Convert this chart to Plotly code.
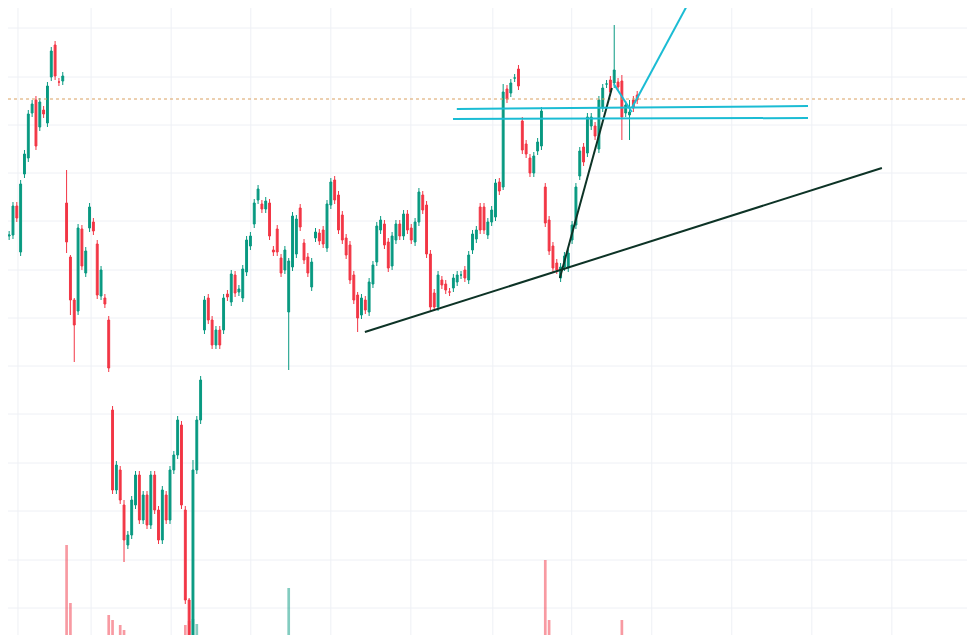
import plotly.graph_objects as go

# candle bodies, as (open, close) in screen-pixel height units
# (price = 635 - pixel_y, so bigger = higher)
body_px = [
    # early rally
    (270, 237), (237, 236), (236, 235), (235, 206), (206, 218), (252, 184), (174, 154), (158, 114),
    (113, 104), (100, 146), (127, 102), (110, 114), (123, 86), (77, 51), (45, 76), (82, 82), (81, 76),
    # gap down
    (203, 242), (257, 300), (300, 325), (311, 228), (229, 266), (273, 251), (228, 207), (222, 231),
    (244, 295), (296, 270), (298, 304), (320, 368),
    # the slump
    (410, 490), (490, 465), (470, 500), (505, 540), (545, 535), (535, 500), (505, 475), (475, 520),
    (520, 495), (495, 525), (525, 475), (475, 510), (510, 540), (540, 490), (495, 520), (520, 470),
    (470, 455), (455, 420), (425, 505), (510, 600), (600, 640), (650, 470), (470, 420), (420, 380),
    # recovery
    (330, 300), (298, 320), (320, 345), (345, 330), (330, 345), (330, 298), (294, 297), (302, 274),
    (275, 293), (292, 289), (298, 269), (272, 240), (246, 236), (224, 203), (200, 189), (204, 209),
    (209, 201), (203, 236), (250, 252), (229, 252), (258, 273), (270, 250), (312, 261), (267, 216),
    (254, 219), (208, 227), (243, 260), (257, 273), (287, 262), (238, 232), (233, 241), (230, 244),
    (248, 204),
    # range
    (205, 182), (180, 200), (195, 230), (215, 240), (238, 255), (245, 280), (275, 300), (295, 318),
    (315, 298), (300, 310), (312, 282), (284, 265), (262, 226), (230, 220), (224, 245), (242, 268),
    (266, 236), (240, 224), (224, 236), (236, 214), (214, 230), (228, 240), (242, 222), (222, 192),
    (195, 210), (205, 254),
    # breakout
    (254, 307), (293, 307), (307, 275), (280, 285), (284, 290), (292, 292), (288, 278), (282, 275),
    (275, 275), (270, 278), (280, 255), (250, 234), (239, 230), (207, 230), (207, 230), (235, 222),
    (222, 210), (217, 183), (182, 191), (187, 92), (89, 99), (93, 83), (78, 78), (69, 86),
    (121, 150), (144, 154), (158, 173), (173, 156), (151, 142), (146, 111), (187, 223), (220, 251),
    (246, 268), (263, 270), (278, 267), (267, 256), (268, 253), (240, 225), (225, 187), (176, 151),
    (147, 162), (153, 117), (126, 117), (126, 136), (149, 100), (108, 88), (84, 84), (80, 92),
    (83, 70), (82, 87), (81, 117), (113, 105), (115, 112), (100, 108), (95, 100),
]

# long wicks: index -> (high_px, low_px); the rest get short wicks
long_wicks = {0: (232, 272), 17: (170, 253), 18: (255, 315), 19: (298, 362), 32: (500, 562),
              49: (598, 700), 50: (460, 700), 75: (258, 370), 93: (292, 332),
              131: (84, 190), 160: (25, 88), 162: (75, 140), 164: (100, 140)}
short_wick = 4

volumes = [
    14, 12, 10, 15, 11, 18, 16, 20, 13, 17, 12, 10, 15, 19, 14, 9, 11,
    120, 62, 28, 24, 20, 18, 15, 22, 26, 19, 21, 50,
    45, 25, 40, 35, 22, 20, 18, 24, 16, 22, 18, 20, 26, 21, 17, 19,
    15, 20, 24, 40, 44, 46, 41, 28,
    26, 22, 20, 18, 16, 19, 14, 17, 15, 13, 16, 18, 20, 17, 15, 14,
    12, 16, 13, 15, 18, 16, 77, 22, 18, 14, 16, 19, 17, 15, 13, 14,
    16,
    20, 17, 18, 16, 14, 19, 21, 23, 18, 15, 17, 14, 16, 13, 15, 18,
    15, 13, 12, 14, 11, 13, 12, 16, 12, 18,
    20, 16, 14, 12, 13, 11, 12, 13, 11, 12, 14, 16, 13, 15, 12, 14,
    13, 17, 15, 28, 19, 16, 13, 18,
    24, 20, 18, 16, 15, 17, 105, 45, 25, 22, 18, 16, 15, 14, 20, 22,
    17, 19, 15, 14, 18, 20, 15, 16, 26, 18, 45, 16, 15, 14, 13,
]

# grid lines (bar index / price)
grid_x = [4.3, 23.4, 44.3, 65.1, 86.0, 106.9, 128.3, 148.9, 169.8, 190.7, 211.6, 232.5, 253.4]
grid_y = [607, 558, 510, 462, 414, 365, 317, 269, 221, 172, 124, 75, 27]

# drawings: (x0, y0, x1, y1) in bar index / price
trend_dark = [(94.9, 303, 229.9, 467), (145.8, 357, 159.4, 547)]
trend_cyan = [(118.9, 526, 210.6, 529), (117.9, 516, 210.6, 517), (164.6, 527, 179.8, 635),
              (159.9, 551, 164.6, 523)]
last_price = 536

UP, DOWN = "#089981", "#f23645"

idx = list(range(len(body_px)))
opens = [635 - o for o, c in body_px]
closes = [635 - c for o, c in body_px]
highs, lows = [], []
for i, (o, c) in enumerate(body_px):
    if i in long_wicks:
        h, l = long_wicks[i]
        highs.append(635 - h)
        lows.append(635 - l)
    else:
        highs.append(max(opens[i], closes[i]) + short_wick)
        lows.append(min(opens[i], closes[i]) - short_wick)

vol_colors = ["rgba(8,153,129,0.5)" if c >= o else "rgba(242,54,69,0.5)" for o, c in zip(opens, closes)]

fig = go.Figure()
fig.add_trace(go.Bar(x=idx, y=volumes[:len(idx)], marker_color=vol_colors, marker_line_width=0,
                     yaxis="y2", width=0.7, hoverinfo="skip"))
fig.add_trace(go.Candlestick(
    x=idx, open=opens, high=highs, low=lows, close=closes,
    increasing=dict(line=dict(color=UP, width=1), fillcolor=UP),
    decreasing=dict(line=dict(color=DOWN, width=1), fillcolor=DOWN),
    whiskerwidth=0,
))

for x in grid_x:
    fig.add_shape(type="line", x0=x, x1=x, y0=0, y1=1, yref="paper", layer="below",
                  line=dict(color="#eef0f5", width=1))
for y in grid_y:
    fig.add_shape(type="line", x0=0, x1=1, xref="paper", y0=y, y1=y, layer="below",
                  line=dict(color="#eef0f5", width=1))

fig.add_shape(type="line", x0=0, x1=1, xref="paper", y0=last_price, y1=last_price,
              line=dict(color="#d9a060", width=1, dash="dot"))
for x0, y0, x1, y1 in trend_dark:
    fig.add_shape(type="line", x0=x0, y0=y0, x1=x1, y1=y1, line=dict(color="#0d3326", width=2))
for x0, y0, x1, y1 in trend_cyan:
    fig.add_shape(type="line", x0=x0, y0=y0, x1=x1, y1=y1, line=dict(color="#1bbcd4", width=2))

# the page body adds an 8px margin, so the ranges are shifted to compensate
fig.update_layout(
    width=975, height=635,
    margin=dict(l=0, r=0, t=0, b=0),
    plot_bgcolor="white", paper_bgcolor="white",
    showlegend=False,
    xaxis=dict(range=[1.70, 256.3], visible=False, rangeslider=dict(visible=False)),
    yaxis=dict(range=[-8, 627], visible=False),
    yaxis2=dict(range=[22, 657], overlaying="y", visible=False),
    bargap=0.3,
)

fig.write_html("out.html")
